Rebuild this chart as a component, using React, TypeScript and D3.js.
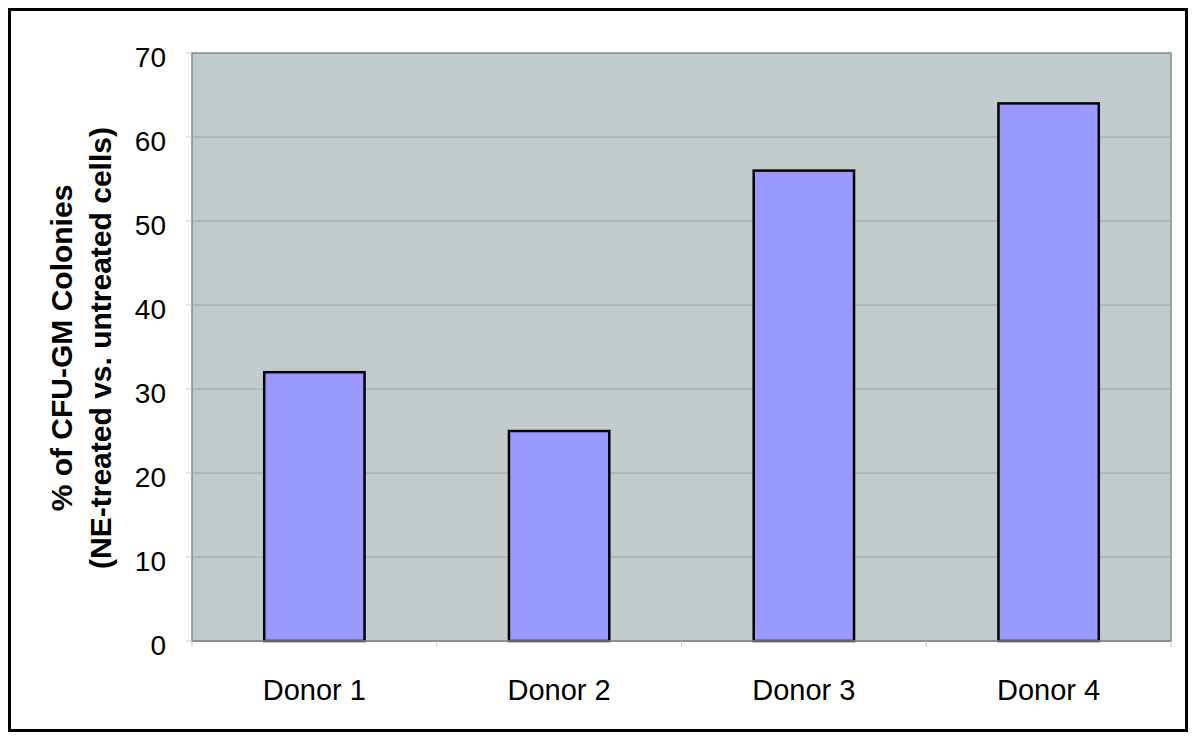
import React from 'react';
import * as d3 from 'd3';

const donors = ['Donor 1', 'Donor 2', 'Donor 3', 'Donor 4'];
const colonyPct = [32, 25, 56, 64];
const yTicks = [0, 10, 20, 30, 40, 50, 60, 70];

const W = 1200;
const H = 740;
const plot = { left: 192, top: 53, right: 1171, bottom: 641 };

export default function App() {
  const x = d3.scaleBand<string>()
    .domain(donors)
    .range([plot.left, plot.right])
    .paddingInner(0.59)
    .paddingOuter(0.295);
  const cat = d3.scaleBand<string>().domain(donors).range([plot.left, plot.right]);
  const y = d3.scaleLinear().domain([0, 70]).range([plot.bottom, plot.top]);

  const font = '"Liberation Sans", Arial, sans-serif';
  const midY = 348;

  return (
    <svg width={W} height={H} style={{ position: 'absolute', left: 0, top: 0 }}>
      <rect x={0} y={0} width={W} height={H} fill="#fff" />
      <rect x={9.5} y={9.5} width={1177} height={721} fill="none" stroke="#000" strokeWidth={3} />

      <rect x={plot.left} y={plot.top} width={plot.right - plot.left} height={plot.bottom - plot.top}
        fill="#c1cdcd" stroke="#7f8c8c" strokeWidth={1.5} />

      {yTicks.slice(1, -1).map(t => (
        <line key={'g' + t} x1={plot.left} x2={plot.right} y1={y(t)} y2={y(t)} stroke="#95a3a3" strokeWidth={1} />
      ))}

      {yTicks.map(t => (
        <g key={'t' + t}>
          <line x1={plot.left - 6} x2={plot.left} y1={y(t)} y2={y(t)} stroke="#c8c8c8" strokeWidth={1} />
          <text x={166} y={y(t) + 14} textAnchor="end" fontFamily={font} fontSize={28} fill="#000">{t}</text>
        </g>
      ))}

      {donors.map((d, i) => (
        <rect key={d} x={x(d)} y={y(colonyPct[i])} width={x.bandwidth()} height={plot.bottom - y(colonyPct[i])}
          fill="#9999ff" stroke="#000" strokeWidth={2.5} />
      ))}

      <line x1={plot.left} x2={plot.right} y1={plot.bottom} y2={plot.bottom} stroke="#7f8c8c" strokeWidth={1.5} />
      {donors.map(d => (
        <line key={'xt' + d} x1={cat(d)} x2={cat(d)} y1={plot.bottom} y2={plot.bottom + 6} stroke="#c8c8c8" strokeWidth={1} />
      ))}
      <line x1={plot.right} x2={plot.right} y1={plot.bottom} y2={plot.bottom + 6} stroke="#c8c8c8" strokeWidth={1} />

      {donors.map(d => (
        <text key={'xl' + d} x={(x(d) ?? 0) + x.bandwidth() / 2} y={700} textAnchor="middle"
          fontFamily={font} fontSize={29} fill="#000">{d}</text>
      ))}

      <text transform={`translate(72,${midY}) rotate(-90)`} textAnchor="middle"
        fontFamily={font} fontSize={30} fontWeight="bold" fill="#000">% of CFU-GM Colonies</text>
      <text transform={`translate(111,${midY}) rotate(-90)`} textAnchor="middle"
        fontFamily={font} fontSize={30} fontWeight="bold" fill="#000">(NE-treated vs. untreated cells)</text>
    </svg>
  );
}
